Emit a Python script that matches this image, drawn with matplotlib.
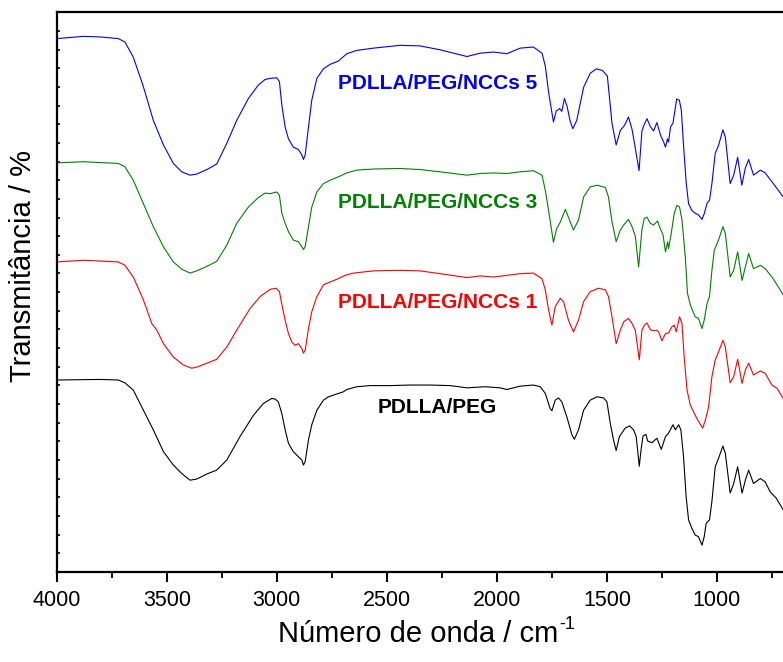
import matplotlib
matplotlib.use('Agg')
import matplotlib.pyplot as plt
from matplotlib.ticker import MultipleLocator
import numpy as np

plt.rcParams['font.family'] = ['Liberation Sans', 'DejaVu Sans']

# FTIR spectra, stacked (wavenumber in cm-1, transmittance in stacked % units)
wn_peg = [4000, 3803, 3720, 3690, 3652, 3606, 3561, 3515, 3470, 3432,
          3394, 3364, 3318, 3273, 3227, 3167, 3106, 3061, 3023, 3008,
          2993, 2977, 2962, 2947, 2925, 2902, 2886, 2879, 2871, 2856,
          2841, 2818, 2788, 2765, 2735, 2697, 2682, 2636, 2576, 2485,
          2394, 2304, 2212, 2135, 2053, 1985, 1955, 1894, 1834, 1803,
          1780, 1758, 1750, 1735, 1720, 1705, 1682, 1659, 1648, 1629,
          1606, 1576, 1545, 1515, 1500, 1485, 1470, 1458, 1443, 1417,
          1397, 1379, 1367, 1353, 1345, 1336, 1323, 1315, 1295, 1273,
          1253, 1234, 1220, 1200, 1189, 1174, 1164, 1152, 1140, 1129,
          1114, 1099, 1084, 1068, 1058, 1049, 1034, 1023, 1008, 993,
          973, 962, 940, 924, 906, 886, 871, 856, 834, 803,
          781, 758, 731, 699]
t_peg = [34.3, 34.4, 34.3, 33.8, 32.5, 28.9, 25.4, 21.5, 19.1, 17.6,
         16.4, 16.6, 17.5, 18.2, 20.0, 24.2, 28.0, 30.1, 31.0, 30.9,
         30.4, 28.3, 25.4, 23.0, 21.5, 20.6, 20.0, 19.1, 19.7, 23.6,
         26.3, 28.9, 30.7, 31.3, 31.7, 32.2, 32.6, 33.1, 33.3, 33.3,
         33.4, 33.4, 33.3, 32.9, 33.1, 32.9, 32.6, 33.2, 33.4, 33.1,
         31.9, 29.2, 28.8, 30.7, 31.1, 30.4, 27.7, 24.5, 23.7, 25.4,
         28.9, 30.7, 31.3, 31.1, 30.4, 26.6, 23.6, 21.7, 24.2, 25.7,
         26.1, 25.4, 24.2, 18.9, 21.8, 24.3, 24.6, 23.4, 23.1, 23.9,
         21.9, 24.2, 24.8, 26.3, 25.4, 26.3, 25.4, 20.6, 13.4, 9.3,
         7.8, 6.6, 6.3, 4.8, 6.3, 8.7, 9.3, 12.6, 18.8, 20.3,
         22.5, 21.2, 14.1, 15.8, 18.8, 14.1, 16.4, 18.2, 15.8, 16.7,
         16.1, 14.3, 13.2, 11.1]

wn_ncc1 = [4000, 3879, 3720, 3690, 3652, 3606, 3568, 3545, 3515, 3470,
           3425, 3386, 3356, 3318, 3273, 3227, 3182, 3121, 3076, 3030,
           3003, 2988, 2975, 2962, 2947, 2932, 2917, 2902, 2886, 2879,
           2871, 2856, 2841, 2818, 2788, 2765, 2727, 2690, 2652, 2561,
           2440, 2349, 2258, 2136, 2076, 2015, 1955, 1894, 1834, 1795,
           1780, 1765, 1750, 1735, 1712, 1697, 1675, 1652, 1629, 1606,
           1576, 1538, 1507, 1493, 1477, 1458, 1439, 1424, 1402, 1386,
           1371, 1353, 1341, 1330, 1318, 1303, 1288, 1273, 1265, 1250,
           1234, 1220, 1205, 1194, 1185, 1170, 1159, 1149, 1136, 1121,
           1106, 1091, 1079, 1065, 1053, 1038, 1023, 1008, 993, 973,
           962, 940, 924, 906, 886, 871, 856, 834, 803, 781,
           750, 727, 699]
t_ncc1 = [55.4, 55.7, 55.4, 54.8, 52.7, 48.6, 44.4, 43.2, 40.8, 38.4,
          37.0, 36.4, 36.7, 37.3, 38.0, 40.2, 43.2, 47.1, 49.2, 50.5,
          50.7, 50.1, 47.4, 45.0, 42.6, 41.1, 40.5, 40.8, 39.9, 39.1,
          39.6, 43.5, 46.5, 49.2, 51.3, 51.7, 52.3, 53.0, 53.4, 53.8,
          53.9, 53.8, 53.3, 52.6, 52.9, 52.7, 53.0, 53.3, 53.4, 52.4,
          50.4, 46.8, 44.1, 47.4, 48.9, 48.3, 45.0, 42.9, 45.0, 48.3,
          50.1, 50.7, 50.4, 49.2, 45.6, 40.8, 43.2, 44.7, 45.3, 44.4,
          43.2, 37.9, 43.2, 44.1, 44.5, 43.3, 43.1, 43.2, 42.9, 41.3,
          42.6, 42.7, 43.8, 44.1, 42.9, 45.6, 44.4, 38.4, 32.5, 29.8,
          28.6, 27.4, 26.6, 25.7, 27.1, 29.5, 34.9, 37.9, 39.3, 41.4,
          40.2, 33.8, 34.9, 38.0, 33.7, 36.1, 37.3, 35.2, 35.9, 35.5,
          33.4, 32.8, 31.0]

wn_ncc3 = [4000, 3879, 3720, 3690, 3652, 3606, 3561, 3515, 3470, 3432,
           3394, 3364, 3318, 3273, 3227, 3182, 3129, 3084, 3053, 3030,
           3000, 2988, 2977, 2962, 2947, 2925, 2902, 2886, 2879, 2871,
           2856, 2841, 2818, 2788, 2758, 2720, 2682, 2636, 2561, 2440,
           2349, 2258, 2136, 2076, 2015, 1955, 1894, 1834, 1795, 1780,
           1765, 1743, 1729, 1712, 1689, 1675, 1652, 1629, 1606, 1576,
           1545, 1507, 1493, 1477, 1458, 1439, 1424, 1402, 1386, 1371,
           1356, 1341, 1330, 1318, 1303, 1288, 1270, 1258, 1245, 1234,
           1224, 1220, 1209, 1194, 1182, 1170, 1159, 1144, 1134, 1121,
           1099, 1084, 1068, 1058, 1045, 1034, 1023, 1012, 993, 973,
           962, 940, 924, 906, 886, 871, 856, 834, 803, 781,
           750, 727, 699]
t_ncc3 = [73.1, 73.3, 73.0, 72.4, 70.0, 65.8, 61.7, 58.1, 55.4, 54.1,
          53.4, 53.8, 54.6, 55.5, 58.4, 62.3, 65.2, 66.9, 67.7, 67.6,
          67.9, 67.3, 64.1, 62.3, 60.8, 59.3, 59.0, 58.1, 57.6, 58.1,
          61.7, 65.2, 67.9, 69.4, 70.0, 70.6, 71.3, 71.8, 72.0, 72.1,
          71.9, 71.5, 70.9, 71.2, 71.3, 71.2, 71.5, 71.7, 70.9, 68.2,
          64.6, 58.9, 61.3, 62.5, 64.8, 63.4, 61.1, 62.9, 67.0, 68.8,
          69.1, 68.7, 67.0, 62.6, 59.0, 61.1, 62.0, 63.0, 61.7, 60.0,
          54.5, 61.2, 63.2, 63.4, 62.3, 62.0, 62.7, 61.4, 60.2, 57.2,
          59.0, 57.8, 60.2, 64.1, 65.5, 65.2, 62.9, 56.3, 49.8, 47.7,
          45.6, 45.3, 43.5, 45.0, 48.0, 49.2, 53.9, 57.5, 59.3, 61.7,
          60.5, 52.7, 53.9, 57.2, 52.1, 54.5, 56.9, 54.2, 54.8, 54.2,
          52.7, 51.3, 49.5]

wn_ncc5 = [4000, 3879, 3803, 3720, 3690, 3652, 3606, 3561, 3515, 3470,
           3432, 3394, 3364, 3318, 3273, 3227, 3182, 3129, 3084, 3053,
           3030, 3000, 2988, 2977, 2962, 2947, 2925, 2902, 2886, 2879,
           2871, 2856, 2841, 2818, 2788, 2758, 2720, 2682, 2636, 2561,
           2440, 2349, 2258, 2136, 2076, 2015, 1955, 1894, 1834, 1795,
           1780, 1765, 1743, 1730, 1715, 1705, 1693, 1681, 1668, 1655,
           1637, 1606, 1576, 1548, 1520, 1498, 1477, 1458, 1439, 1420,
           1402, 1386, 1371, 1354, 1341, 1330, 1318, 1303, 1288, 1273,
           1256, 1242, 1234, 1225, 1220, 1211, 1200, 1183, 1171, 1162,
           1152, 1140, 1129, 1114, 1099, 1084, 1068, 1058, 1045, 1034,
           1023, 1008, 993, 973, 962, 940, 924, 906, 887, 871,
           856, 834, 803, 781, 750, 727, 699]
t_ncc5 = [95.3, 95.7, 95.6, 95.3, 94.7, 92.0, 86.7, 80.7, 76.3, 73.0,
          71.5, 70.9, 71.1, 71.9, 72.9, 76.6, 80.7, 84.6, 87.0, 88.0,
          88.2, 88.3, 87.6, 83.4, 79.5, 77.4, 75.9, 75.5, 74.5, 73.7,
          74.5, 79.5, 84.3, 88.2, 89.9, 90.7, 91.3, 92.6, 93.2, 93.6,
          94.1, 94.0, 93.3, 92.1, 92.7, 92.9, 92.6, 93.6, 93.8, 92.7,
          90.4, 85.7, 80.4, 82.4, 82.8, 82.3, 84.6, 83.2, 80.7, 79.2,
          80.7, 86.6, 89.1, 89.9, 89.6, 88.6, 80.2, 76.3, 78.9, 79.8,
          81.3, 79.1, 75.7, 71.7, 78.8, 80.0, 81.0, 79.6, 78.8, 80.3,
          78.0, 76.8, 75.9, 77.4, 76.8, 79.5, 80.2, 84.5, 84.3, 82.5,
          76.3, 69.6, 65.8, 64.6, 64.1, 63.8, 63.0, 64.0, 65.9, 66.4,
          69.4, 74.8, 76.2, 79.0, 77.7, 69.4, 70.9, 74.1, 69.1, 72.2,
          73.7, 70.9, 71.8, 71.3, 69.7, 68.5, 67.0]

names = ['PDLLA/PEG', 'PDLLA/PEG/NCCs 1', 'PDLLA/PEG/NCCs 3', 'PDLLA/PEG/NCCs 5']
colors = ['black', 'red', 'green', 'blue']
label_y = [29.3, 48.2, 66.1, 87.3]
label_x = 2271

fig = plt.figure(figsize=(7.83, 6.62), dpi=100)
ax = fig.add_axes([0.0724, 0.136, 0.9276, 0.8454])

spectra = [(wn_peg, t_peg), (wn_ncc1, t_ncc1), (wn_ncc3, t_ncc3), (wn_ncc5, t_ncc5)]
for (wn, t), name, c, ly in zip(spectra, names, colors, label_y):
    ax.plot(wn, t, color=c, lw=0.8)
    ax.text(label_x, ly, name, color=c, fontsize=15, fontweight='bold',
            ha='center', va='center')

ax.set_xlim(4000, 700)
ax.set_ylim(0, 100)

ax.xaxis.set_major_locator(MultipleLocator(500))
ax.xaxis.set_minor_locator(MultipleLocator(250))
ax.tick_params(axis='x', which='major', direction='out', length=7, width=1.5,
               labelsize=15.5, pad=6, top=False)
ax.tick_params(axis='x', which='minor', direction='out', length=4, width=1.3, top=False)

ax.set_yticks(np.linspace(0, 100, 31))
ax.tick_params(axis='y', which='major', direction='in', length=2.5, width=1.2,
               labelleft=False, right=False)

for side in ['left', 'bottom', 'top']:
    ax.spines[side].set_linewidth(1.6)
ax.spines['right'].set_visible(False)

ax.set_xlabel('Número de onda / cm', fontsize=21)
ax.set_ylabel('Transmitância / %', fontsize=21)
ax.xaxis.set_label_coords(0.497, -0.085)
ax.yaxis.set_label_coords(-0.027, 0.547)

# superscript "-1" hung off the end of the x label
ax.annotate('-1', xy=(1.0, 0.82), xycoords=ax.xaxis.label,
            xytext=(1, 0), textcoords='offset points',
            fontsize=13, ha='left', va='center')

fig.savefig('out.png', dpi=100)
